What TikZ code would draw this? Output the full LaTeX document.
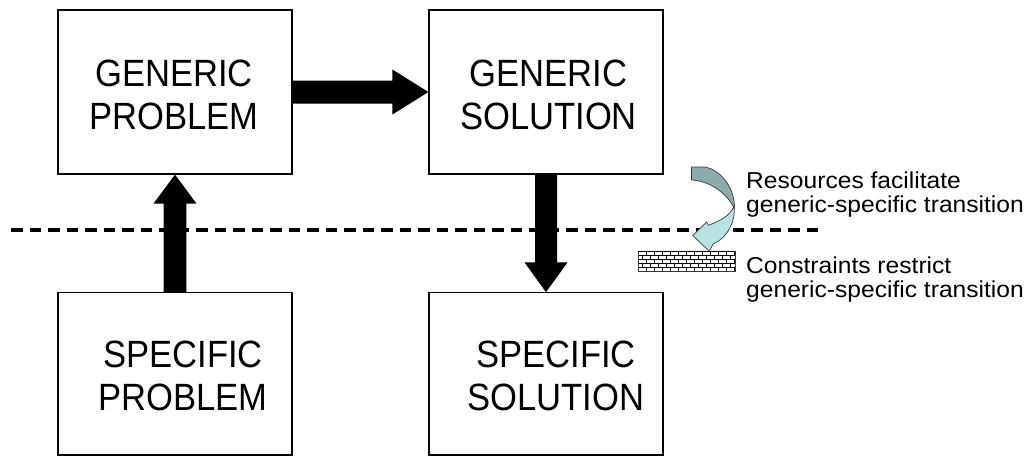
\documentclass[tikz,border=0pt]{standalone}
\usepackage{fontspec}
\setmainfont{Liberation Sans}
\newfontfamily\bigfont[FakeStretch=0.91]{Liberation Sans}
\newfontfamily\smallfont[FakeStretch=1.07]{Liberation Sans}
\usetikzlibrary{calc}
\definecolor{arrdark}{RGB}{140,171,171}
\definecolor{arrlight}{RGB}{185,227,227}
\definecolor{edgegray}{RGB}{60,60,60}
\begin{document}
\begin{tikzpicture}[x=1pt,y=-1pt,
  box/.style={draw=black, line width=1.2pt, minimum width=234, minimum height=164, inner sep=0},
  lowbox/.style={box, minimum height=162.3},
  bigtxt/.style={font=\bigfont\fontsize{38}{42.3}\selectfont, align=center, inner sep=0},
  smalltxt/.style={font=\smallfont\fontsize{23}{24.4}\selectfont, inner sep=0, anchor=base west},
  blockarrow/.style={fill=black},
  dashline/.style={draw=black, line width=4pt, dash pattern=on 11.7pt off 6.8pt},
  curvedark/.style={fill=arrdark, draw=edgegray, line width=0.7pt, line join=round},
  curvelight/.style={fill=arrlight, draw=edgegray, line width=0.7pt, line join=round},
]
\useasboundingbox[fill=white] (0,0) rectangle (1026,456);

% boxes
\node[box] (gp) at (175,92) {};
\node[box] (gs) at (546,92) {};
\node[lowbox] (sp) at (175,373.9) {};
\node[lowbox] (ss) at (546,373.9) {};

% box texts
\node[bigtxt] (gpt) at (174,95) {GENERIC\\PROBLEM};
\node[bigtxt] (gst) at (548.5,95) {GENERIC\\SOLUTION};
\node[bigtxt] (spt) at (183,376) {SPECIFIC\\PROBLEM};
\node[bigtxt] (sst) at (556,376) {SPECIFIC\\SOLUTION};

% dashed boundary
\coordinate (dl1) at (11,230.3);
\coordinate (dl2) at (818,230.3);
\draw[dashline] (dl1) -- (dl2);

% block arrows
\fill[blockarrow] ($(gp.east)+(0,-11.5)$) -- ($(gs.west)+(-36,-11.5)$) -- ($(gs.west)+(-36,-22.5)$)
  -- (gs.west) -- ($(gs.west)+(-36,22.5)$) -- ($(gs.west)+(-36,11.5)$) -- ($(gp.east)+(0,11.5)$) -- cycle;
\fill[blockarrow] ($(sp.north)+(-11.3,0)$) -- ($(gp.south)+(-11.3,29)$) -- ($(gp.south)+(-21.5,29)$)
  -- (gp.south) -- ($(gp.south)+(21.5,29)$) -- ($(gp.south)+(11.3,29)$) -- ($(sp.north)+(11.3,0)$) -- cycle;
\fill[blockarrow] ($(gs.south)+(-11,0)$) -- ($(ss.north)+(-11,-29.7)$) -- ($(ss.north)+(-21.5,-29.7)$)
  -- (ss.north) -- ($(ss.north)+(21.5,-29.7)$) -- ($(ss.north)+(11,-29.7)$) -- ($(gs.south)+(11,0)$) -- cycle;

% brick wall (constraints)
\begin{scope}
  \clip (638,251) rectangle (735,271);
  \fill[white] (638,251) rectangle (735,271);
  \foreach \i in {1,...,4} \draw[black, line width=0.6pt] (638,251+4*\i) -- (735,251+4*\i);
  \foreach \i in {0,...,4} {
    \pgfmathsetmacro{\off}{mod(\i,2)*4}
    \foreach \k in {0,...,12}
      \draw[black, line width=0.6pt] (638+\off+8*\k,251+4*\i) -- (638+\off+8*\k,255+4*\i);
  }
\end{scope}
\draw[edgegray, line width=0.8pt] (638,251) rectangle (735,271);
\draw[black, line width=1.5pt] (638,251.5) -- (735,251.5);

% curved arrow (resources)
\draw[curvedark] (691.5,167) -- (705,167)
  .. controls (718,169) and (735,185) .. (734.5,209)
  .. controls (729,196) and (712,181) .. (691.5,180) -- cycle;
\draw[curvelight] (734,206)
  .. controls (736,220) and (728,238) .. (713.3,243.7)
  -- (709.3,251.3) -- (692.7,235.5) -- (706.7,222) -- (708.3,225.3)
  .. controls (720,221) and (730,216) .. cycle;

% side texts
\node[smalltxt] (r1) at (746,188.3) {Resources facilitate};
\node[smalltxt] (r2) at (746,212.7) {generic-specific transition};
\node[smalltxt] (c1) at (746,273.3) {Constraints restrict};
\node[smalltxt] (c2) at (746,297.7) {generic-specific transition};
\end{tikzpicture}
\end{document}
